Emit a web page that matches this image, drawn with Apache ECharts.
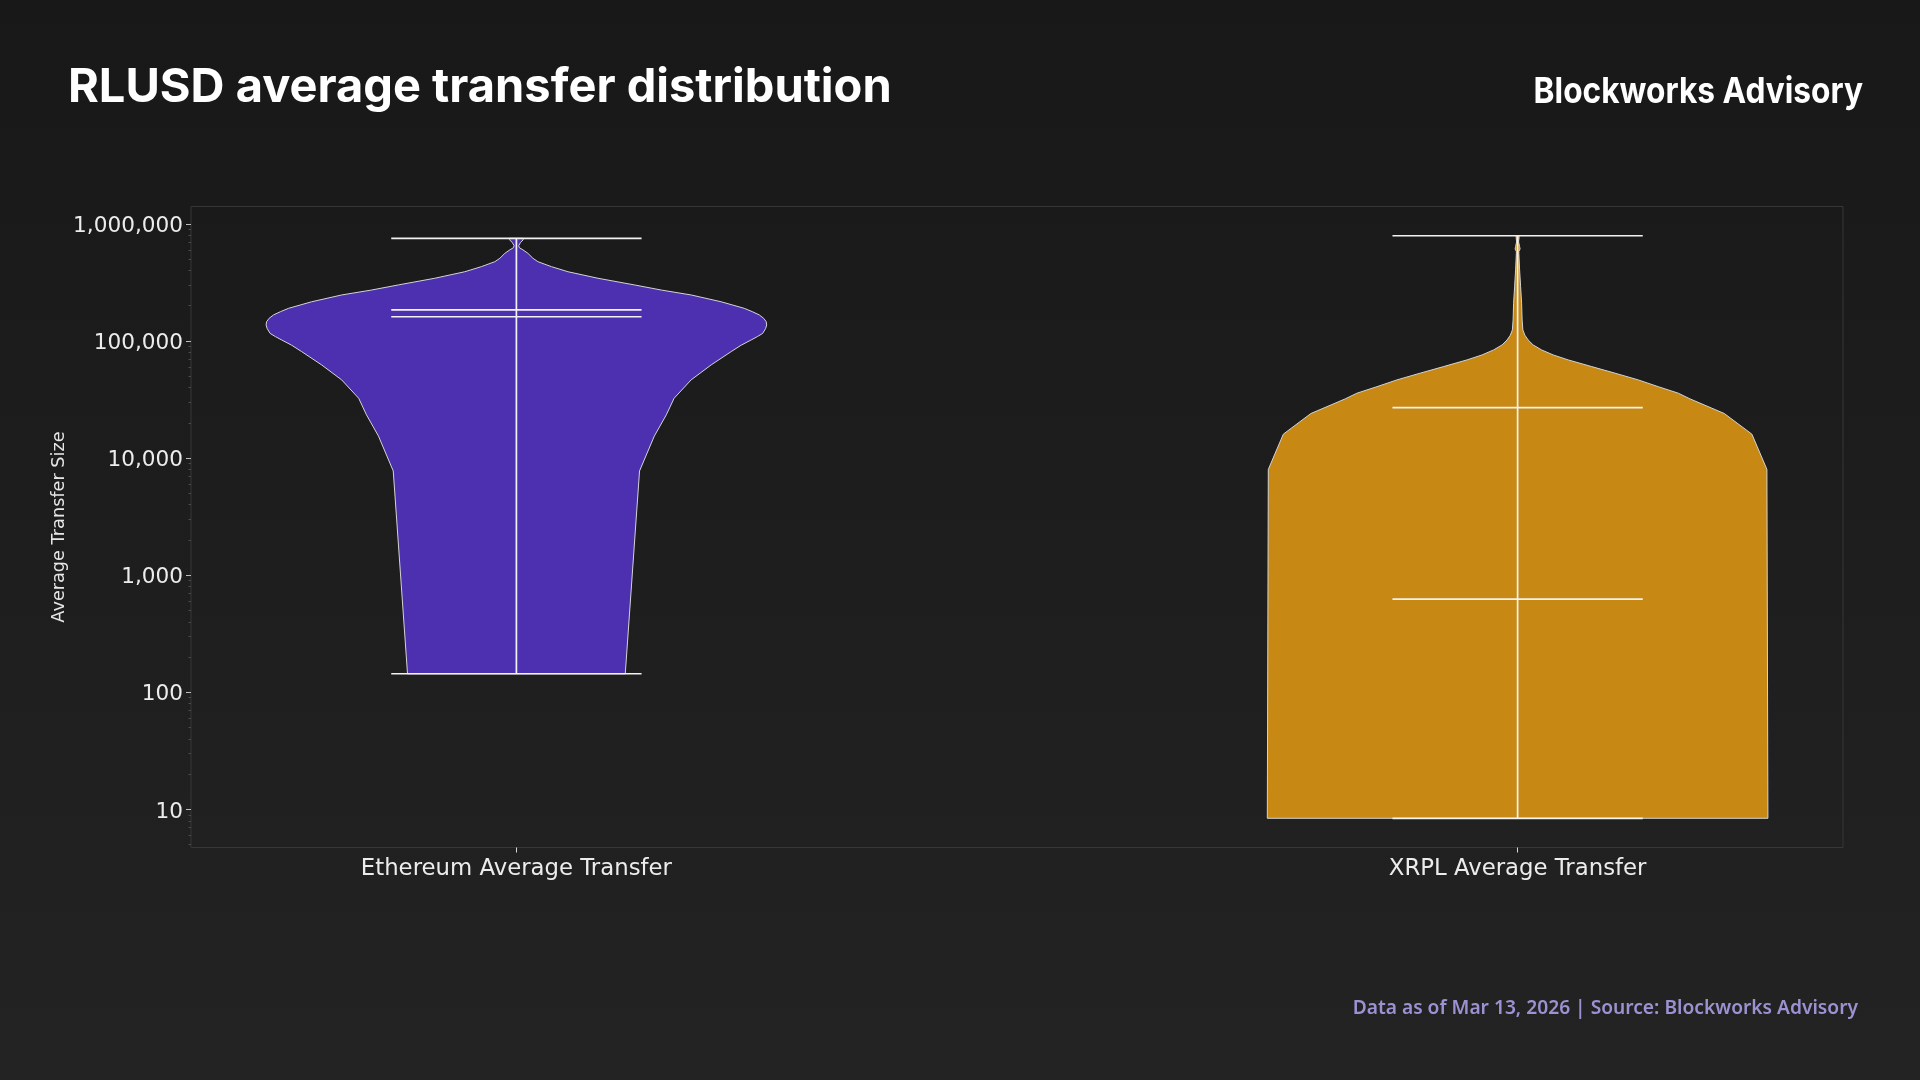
<!DOCTYPE html>
<html>
<head>
<meta charset="utf-8">
<script src="https://cdn.jsdelivr.net/npm/echarts@6/dist/echarts.min.js"></script>
<style>
html,body{margin:0;padding:0;background:#1d1d1d;}
#c{width:1920px;height:1080px;}
</style>
</head>
<body>
<div id="c"></div>
<script>
// ---- data ----
const categories = ['Ethereum Average Transfer', 'XRPL Average Transfer'];
const yTickValues = [10, 100, 1000, 10000, 100000, 1000000];
const yMinorTickValues = [5, 6, 7, 8, 9, 20, 30, 40, 50, 60, 70, 80, 90,
  200, 300, 400, 500, 600, 700, 800, 900, 2000, 3000, 4000, 5000, 6000, 7000, 8000, 9000,
  20000, 30000, 40000, 50000, 60000, 70000, 80000, 90000,
  200000, 300000, 400000, 500000, 600000, 700000, 800000, 900000];

// Violin outlines: sampled values (descending) and relative half-width (1 = widest)
const ethValues = [752000, 730000, 690000, 650000, 625000, 600000, 560000, 508000, 475000, 431000,
  390000, 343000, 301000, 272000, 247000, 216000, 190000, 178000, 167000, 156000, 146000, 137000,
  128000, 116000, 109000, 102000, 92000, 81100, 62400, 46500, 32400, 23400, 15400, 7760, 144];
const ethWidths = [0.027, 0.027, 0.016, 0.009, 0.012, 0.026, 0.046, 0.066, 0.086, 0.14,
  0.206, 0.326, 0.471, 0.579, 0.698, 0.818, 0.910, 0.942, 0.970, 0.988, 0.998, 1.0,
  0.996, 0.984, 0.963, 0.938, 0.898, 0.858, 0.778, 0.698, 0.630, 0.599, 0.551, 0.492, 0.435];
// [min, max, mean, median]
const ethStats = [144, 752000, 184000, 161000];

const xrplValues = [791000, 776000, 700000, 640000, 610000, 580000, 560000, 404000, 290000, 210000,
  151000, 124000, 112000, 102000, 92500, 83800, 76000, 68900, 60400, 53100,
  46500, 40700, 35800, 32000, 24000, 16000, 8000, 8.4];
const xrplWidths = [0.006, 0.006, 0.004, 0.008, 0.010, 0.005, 0.005, 0.008, 0.012, 0.016,
  0.018, 0.021, 0.029, 0.042, 0.062, 0.096, 0.142, 0.202, 0.296, 0.389,
  0.482, 0.562, 0.642, 0.689, 0.826, 0.936, 0.996, 1.0];
const xrplStats = [8.4, 791000, 27000, 624];

const positions = [1, 2];
const colors = ['#4d30b0', '#c78913'];

// ---- chart ----
const violins = [
  {values: ethValues, widths: ethWidths, stats: ethStats, color: colors[0]},
  {values: xrplValues, widths: xrplWidths, stats: xrplStats, color: colors[1]}
];

const chart = echarts.init(document.getElementById('c'), null, {renderer: 'canvas'});

function fmt(v) { return Math.round(v).toLocaleString('en-US'); }

const option = {
  backgroundColor: {
    type: 'linear', x: 0, y: 0, x2: 0, y2: 1,
    colorStops: [{offset: 0, color: '#181818'}, {offset: 1, color: '#232323'}]
  },
  animation: false,
  grid: {
    left: 191, top: 206.5, width: 1652, height: 641,
    show: true, borderColor: '#373737', borderWidth: 1, backgroundColor: 'transparent'
  },
  xAxis: {
    type: 'value', min: 0.675, max: 2.325,
    axisLine: {show: false},
    splitLine: {show: false},
    axisTick: {show: true, length: 5, lineStyle: {color: '#d8d8d8', width: 1}, customValues: positions},
    axisLabel: {
      customValues: positions,
      formatter: v => categories[Math.round(v) - 1] || '',
      color: '#ececec', fontSize: 22.8, fontFamily: 'DejaVu Sans', margin: 10
    }
  },
  yAxis: [{
    type: 'log', logBase: 10, min: 4.73, max: 1406000,
    name: 'Average Transfer Size', nameLocation: 'middle', nameRotate: 90, nameGap: 123,
    nameMoveOverlap: false,
    nameTextStyle: {color: '#e6e6e6', fontSize: 17.7, fontFamily: 'DejaVu Sans'},
    axisLine: {show: false},
    splitLine: {show: false},
    axisTick: {show: true, length: 5, lineStyle: {color: '#bdbdbd', width: 1}, customValues: yTickValues},
    axisLabel: {
      customValues: yTickValues,
      formatter: v => fmt(v),
      color: '#ececec', fontSize: 21.6, fontFamily: 'DejaVu Sans', margin: 8,
      verticalAlign: 'top', lineHeight: 5
    }
  }, {
    type: 'log', logBase: 10, min: 4.73, max: 1406000, position: 'left',
    axisLine: {show: false}, splitLine: {show: false},
    axisLabel: {show: false},
    axisTick: {show: true, length: 2.5, lineStyle: {color: '#4a4a4a', width: 1}, customValues: yMinorTickValues}
  }],
  series: [{
    type: 'custom',
    coordinateSystem: 'cartesian2d',
    xAxisIndex: 0, yAxisIndex: 0,
    clip: false,
    data: positions.map((p, i) => [p, violins[i].stats[3]]),
    encode: {x: 0, y: 1},
    renderItem: function (params, api) {
      const v = violins[params.dataIndex];
      const pos = api.value(0);
      const half = 0.25, lineHalf = 0.125;
      const right = v.values.map((val, k) => api.coord([pos + half * v.widths[k], val]));
      const left = v.values.map((val, k) => api.coord([pos - half * v.widths[k], val])).reverse();
      const children = [{
        type: 'polygon',
        shape: {points: right.concat(left), smooth: 0},
        style: {fill: v.color, stroke: '#d4d4d4', lineWidth: 1}
      }];
      const lineStyle = {stroke: '#f2f2f2', lineWidth: 1.7};
      const top = api.coord([pos, v.stats[1]]);
      const bot = api.coord([pos, v.stats[0]]);
      children.push({type: 'line', shape: {x1: top[0], y1: top[1], x2: bot[0], y2: bot[1]}, style: lineStyle});
      v.stats.forEach(s => {
        const a = api.coord([pos - lineHalf, s]);
        const b = api.coord([pos + lineHalf, s]);
        children.push({type: 'line', shape: {x1: a[0], y1: a[1], x2: b[0], y2: b[1]}, style: lineStyle});
      });
      return {type: 'group', children: children};
    }
  }],
  graphic: [
    {type: 'text', left: 68, top: 64, style: {text: 'RLUSD average transfer distribution', fill: '#ffffff', font: '700 47px Inter'}},
    {type: 'text', x: 1863, y: 74, scaleX: 0.88, style: {x: 0, y: 0, text: 'Blockworks Advisory', align: 'right', verticalAlign: 'top', fill: '#ffffff', font: '700 36px Inter'}},
    {type: 'text', right: 62, top: 999, style: {text: 'Data as of Mar 13, 2026 | Source: Blockworks Advisory', fill: '#9c92d2', font: '600 19.2px "Noto Sans"'}}
  ]
};
chart.setOption(option);
</script>
</body>
</html>
